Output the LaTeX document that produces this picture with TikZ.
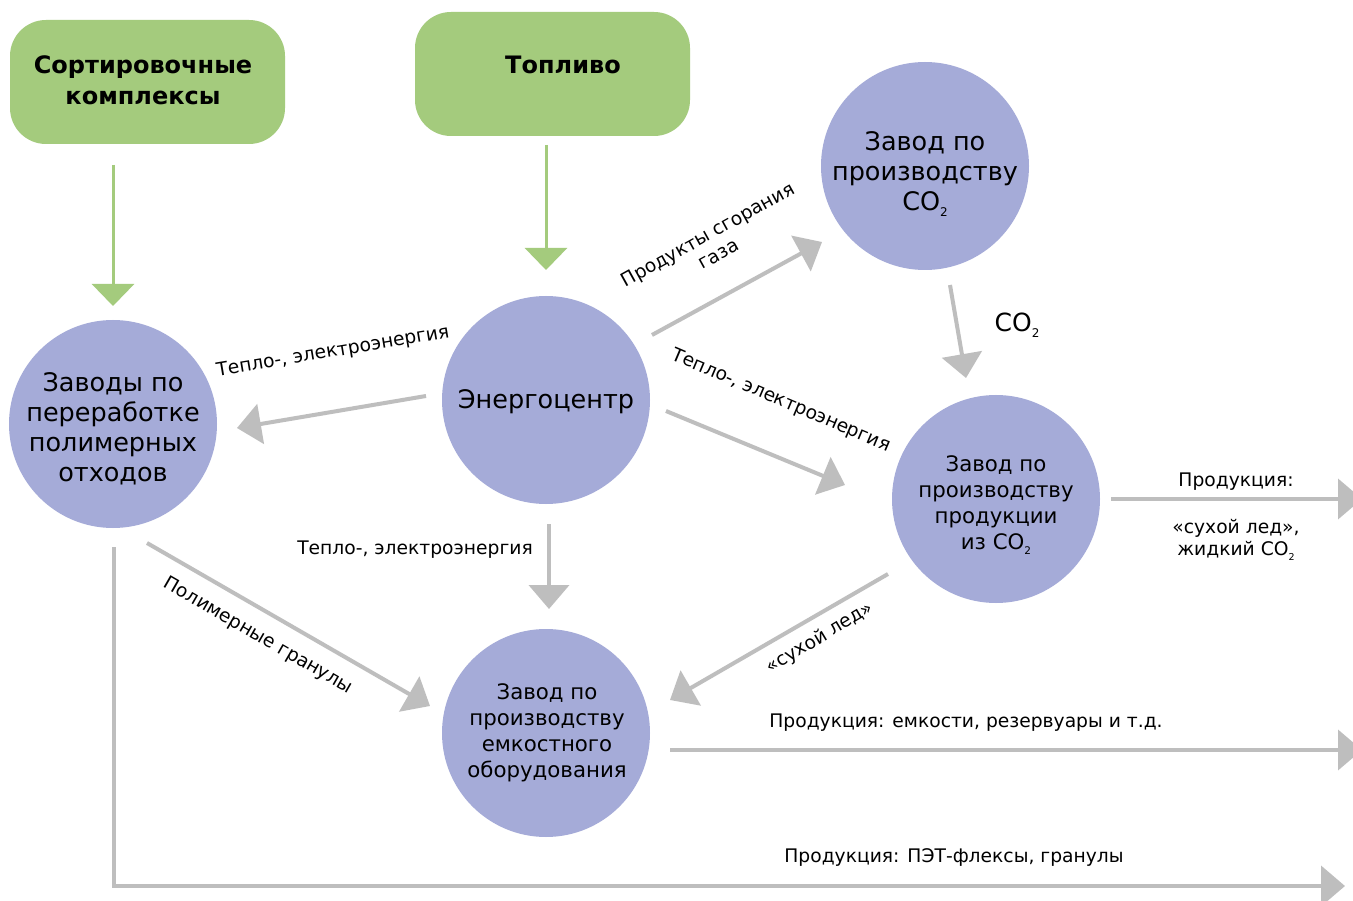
\documentclass[tikz,border=0pt]{standalone}
\usepackage{fontspec}
\usepackage{graphicx}
\setmainfont{DejaVu Sans}
\usetikzlibrary{arrows.meta}
\definecolor{boxgreen}{HTML}{A4CB7D}
\definecolor{circblue}{HTML}{A5ABD8}
\definecolor{arrgrey}{HTML}{BEBEBE}
\newcommand{\subtwo}{\raisebox{-0.45ex}{\fontsize{12}{12}\selectfont 2}}
\newcommand{\subtwos}{\raisebox{-0.45ex}{\fontsize{10.5}{10.5}\selectfont 2}}
\newcommand{\subtwot}{\raisebox{-0.45ex}{\fontsize{9.5}{9.5}\selectfont 2}}
\begin{document}
\begin{tikzpicture}[x=1pt,y=-1pt,
  greenbox/.style={fill=boxgreen,draw=none,rounded corners=36pt,minimum width=275pt,minimum height=124pt,inner sep=0pt},
  boxtext/.style={font=\fontsize{24}{31}\selectfont\bfseries,align=center},
  disc/.style={circle,fill=circblue,draw=none,minimum size=208pt,inner sep=0pt},
  bigtext/.style={align=center,inner sep=0pt,font=\fontsize{25.5}{30}\selectfont},
  smalltext/.style={align=center,inner sep=0pt,font=\fontsize{21.3}{26}\selectfont},
  greenarrow/.style={draw=boxgreen,line width=3pt,-{Triangle[width=42pt,length=22pt]}},
  greyarrow/.style={draw=arrgrey,line width=4pt,-{Triangle[width=40pt,length=24pt]}},
  lbl/.style={font=\fontsize{18.7}{22}\selectfont,align=center,inner sep=0pt}]
\useasboundingbox (0,0) rectangle (1353,901);
\fill[white] (0,0) rectangle (1353,901);
% green boxes
\node[greenbox] (sort) at (147.5,82) {};
\node[boxtext] (sorttext) at (143,80) {Сортировочные\\комплексы};
\node[greenbox] (fuel) at (552.5,74) {};
\node[boxtext] (fueltext) at (563,65) {Топливо};
% circles
\node[disc] (recyc) at (113,424) {};
\node[bigtext] (recyctext) at (113,429) {Заводы по\\переработке\\полимерных\\отходов};
\node[disc] (energy) at (546,400) {};
\node[bigtext] (energytext) at (546,402) {Энергоцентр};
\node[disc] (co2) at (925,166) {};
\node[bigtext] (co2text) at (925,174) {Завод по\\производству\\CO\subtwo};
\node[disc] (prod) at (996,499) {};
\node[smalltext] (prodtext) at (996,505) {Завод по\\производству\\продукции\\из CO\subtwos};
\node[disc] (tank) at (546,733) {};
\node[smalltext] (tanktext) at (547,733) {Завод по\\производству\\емкостного\\оборудования};
% connector endpoints
\coordinate (g1s) at (113,165); \coordinate (g1e) at (113,306);
\coordinate (g2s) at (546,145); \coordinate (g2e) at (546,270);
\coordinate (a1s) at (426,396); \coordinate (a1e) at (237,428);
\coordinate (a2s) at (652,335); \coordinate (a2e) at (822,242);
\coordinate (a3s) at (950,285); \coordinate (a3e) at (966,378);
\coordinate (a4s) at (666,411); \coordinate (a4e) at (845,485);
\coordinate (a5s) at (549,524); \coordinate (a5e) at (549,609);
\coordinate (a6s) at (888,574); \coordinate (a6e) at (670,700);
\coordinate (a7s) at (147,543); \coordinate (a7e) at (430,706);
\coordinate (a8s) at (1111,499); \coordinate (a8e) at (1362,499);
\coordinate (a9s) at (670,750); \coordinate (a9e) at (1362,750);
\coordinate (a10s) at (114,547); \coordinate (a10e) at (1345,886);
% green arrows
\draw[greenarrow] (g1s) -- (g1e);
\draw[greenarrow] (g2s) -- (g2e);
% grey arrows
\draw[greyarrow] (a1s) -- (a1e);
\draw[greyarrow] (a2s) -- (a2e);
\draw[greyarrow] (a3s) -- (a3e);
\draw[greyarrow] (a4s) -- (a4e);
\draw[greyarrow] (a5s) -- (a5e);
\draw[greyarrow] (a6s) -- (a6e);
\draw[greyarrow] (a7s) -- (a7e);
\draw[greyarrow] (a8s) -- (a8e);
\draw[greyarrow] (a9s) -- (a9e);
\draw[greyarrow] (a10s) |- (a10e);
% labels
\node[lbl,rotate=9.5] (l1) at (333,352) {Тепло-, электроэнергия};
\node[lbl,rotate=29] (l2) at (713,244) {Продукты сгорания\\газа};
\node[lbl,font=\fontsize{25}{28}\selectfont] (l3) at (1017,325) {CO\subtwo};
\node[lbl,rotate=-23] (l4) at (781,401) {Тепло-, электроэнергия};
\node[lbl] (l5) at (415,550) {Тепло-, электроэнергия};
\node[lbl,rotate=31] (l6) at (820,638) {«сухой лед»};
\node[lbl,rotate=-30] (l7) at (258,636) {Полимерные гранулы};
\node[lbl] (l8) at (1236,482) {Продукция:};
\node[lbl] (l9) at (1236,540) {«сухой лед»,\\жидкий CO\subtwot};
\node[lbl] (l10) at (966,723) {Продукция: емкости, резервуары и т.д.};
\node[lbl] (l11) at (954,858) {Продукция: ПЭТ-флексы, гранулы};
\end{tikzpicture}
\end{document}
